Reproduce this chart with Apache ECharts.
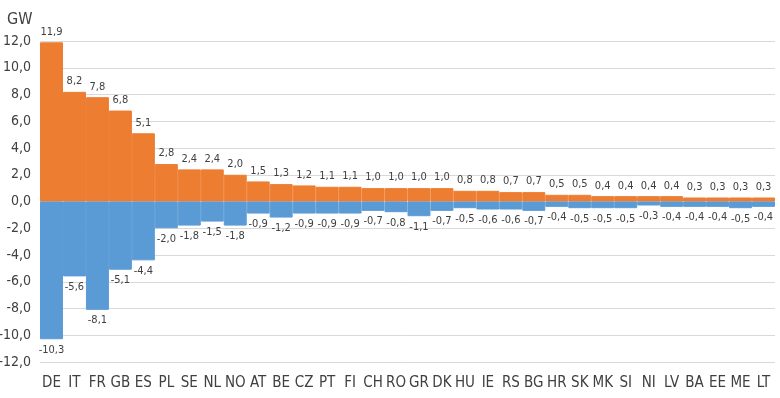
<!DOCTYPE html>
<html>
<head>
<meta charset="utf-8">
<script src="https://cdn.jsdelivr.net/npm/echarts@6/dist/echarts.min.js"></script>
<style>
  html, body { margin: 0; padding: 0; background: #fff; }
  #chart { width: 780px; height: 398px; }
</style>
</head>
<body>
<div id="chart"></div>
<script>
  const countries = ['DE', 'IT', 'FR', 'GB', 'ES', 'PL', 'SE', 'NL', 'NO', 'AT', 'BE', 'CZ', 'PT', 'FI', 'CH', 'RO',
    'GR', 'DK', 'HU', 'IE', 'RS', 'BG', 'HR', 'SK', 'MK', 'SI', 'NI', 'LV', 'BA', 'EE', 'ME', 'LT']
  const positiveGW = [11.9, 8.2, 7.8, 6.8, 5.1, 2.8, 2.4, 2.4, 2.0, 1.5, 1.3, 1.2, 1.1, 1.1, 1.0, 1.0,
    1.0, 1.0, 0.8, 0.8, 0.7, 0.7, 0.5, 0.5, 0.4, 0.4, 0.4, 0.4, 0.3, 0.3, 0.3, 0.3]
  const negativeGW = [-10.3, -5.6, -8.1, -5.1, -4.4, -2.0, -1.8, -1.5, -1.8, -0.9, -1.2, -0.9, -0.9, -0.9, -0.7, -0.8,
    -1.1, -0.7, -0.5, -0.6, -0.6, -0.7, -0.4, -0.5, -0.5, -0.5, -0.3, -0.4, -0.4, -0.4, -0.5, -0.4]

  const font = '"Liberation Sans Narrow", "DejaVu Sans Condensed", sans-serif'
  const fmt = v => v.toFixed(1).replace('.', ',')

  const myChart = echarts.init(document.getElementById('chart'))
  myChart.setOption({
    animation: false,
    title: {
      text: 'GW',
      left: 2,
      top: 7,
      textStyle: { fontFamily: font, fontSize: 16, fontWeight: 'normal', color: '#404040' }
    },
    grid: { left: 40, right: 5, top: 41, bottom: 36, containLabel: false, outerBoundsMode: 'none' },
    xAxis: {
      type: 'category',
      data: countries,
      position: 'bottom',
      axisLine: { show: false, onZero: false },
      axisTick: { show: false },
      axisLabel: { interval: 0, margin: 14, fontFamily: font, fontSize: 15, color: '#404040' }
    },
    yAxis: {
      type: 'value',
      min: -12,
      max: 12,
      interval: 2,
      axisLine: { show: false },
      axisTick: { show: false },
      splitLine: { lineStyle: { color: '#D9D9D9', width: 1 } },
      axisLabel: {
        fontFamily: font, fontSize: 14, color: '#404040', margin: 9,
        formatter: v => fmt(v)
      }
    },
    series: [
      {
        name: 'positive',
        type: 'bar',
        stack: 'gw',
        data: positiveGW,
        barCategoryGap: 0,
        barGap: 0,
        itemStyle: { color: '#ED7D31', borderColor: '#ED7D31', borderWidth: 1 },
        label: {
          show: true, position: 'top', distance: 5,
          fontFamily: font, fontSize: 11, color: '#404040',
          formatter: p => fmt(p.value)
        }
      },
      {
        name: 'negative',
        type: 'bar',
        stack: 'gw',
        data: negativeGW,
        barCategoryGap: 0,
        barGap: 0,
        itemStyle: { color: '#5B9BD5', borderColor: '#5B9BD5', borderWidth: 1 },
        label: {
          show: true, position: 'bottom', distance: 5,
          fontFamily: font, fontSize: 11, color: '#404040',
          formatter: p => fmt(p.value)
        }
      }
    ]
  })
</script>
</body>
</html>
